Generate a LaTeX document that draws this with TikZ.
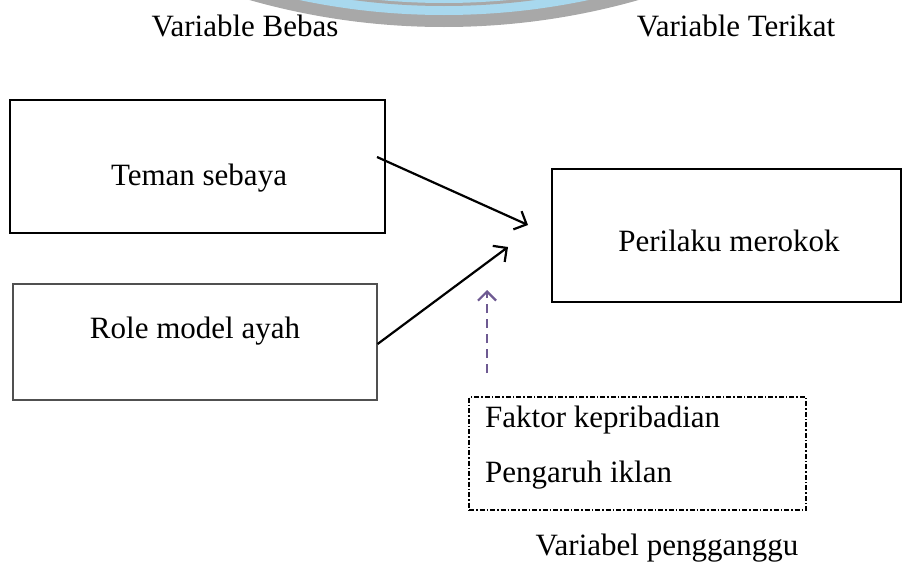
\documentclass[tikz,border=0pt]{standalone}
\usepackage{fontspec}
\setmainfont{Liberation Serif}
\usetikzlibrary{arrows.meta}
\definecolor{wmgrey}{HTML}{A8A8A8}
\definecolor{wmblue}{HTML}{A8D8EE}
\definecolor{dpurple}{HTML}{6E5A92}
\definecolor{boxgrey}{HTML}{505050}
\begin{document}
\begin{tikzpicture}[x=1pt,y=-1pt,
  font=\fontsize{31}{37}\selectfont,
  thickbox/.style={draw=black, line width=2.2pt, inner sep=0pt},
  thinbox/.style={draw=boxgrey, line width=1.2pt, inner sep=0pt},
  dotbox/.style={draw=black, line width=1.3pt, dash pattern=on 5pt off 2pt on 1.5pt off 2pt, inner sep=0pt},
  lbl/.style={anchor=base, inner sep=0pt},
  lblw/.style={anchor=base west, inner sep=0pt},
  conn/.style={draw=black, line width=2.2pt, -{Straight Barb[length=10pt,width=20pt,line width=2.2pt]}},
  pconn/.style={draw=dpurple, line width=2.4pt, dash pattern=on 9pt off 6pt, -{Straight Barb[length=9pt,width=18pt,line width=2.2pt]}}
]
\useasboundingbox (0,0) rectangle (902,565);
% faint watermark at the top
\begin{scope}
  \clip (0,0) rectangle (902,565);
  \fill[wmgrey] (444,-683) circle (710pt);
  \fill[wmblue] (444,-683) circle (698pt);
  \fill[wmgrey] (444,-683) circle (689pt);
  \fill[wmblue] (444,-683) circle (686pt);
\end{scope}

% headings
\node[lbl] (hbebas) at (245,36) {Variable Bebas};
\node[lbl] (hterikat) at (736,36) {Variable Terikat};

% boxes
\node[thickbox, minimum width=375pt, minimum height=133pt] (teman) at (197.5,166.5) {};
\node[thinbox, minimum width=364pt, minimum height=116pt] (role) at (195,342) {};
\node[thickbox, minimum width=349pt, minimum height=133pt] (perilaku) at (726.5,235.5) {};
\node[dotbox, minimum width=337pt, minimum height=113pt] (ganggu) at (637.5,453.5) {};

% box texts
\node[lbl] (tteman) at (199,185) {Teman sebaya};
\node[lbl] (trole) at (195,338) {Role model ayah};
\node[lbl] (tperilaku) at (729,251) {Perilaku merokok};
\node[lblw] (tfaktor) at (485,427) {Faktor kepribadian};
\node[lblw] (tiklan) at (485,482) {Pengaruh iklan};
\node[lbl] (tganggu) at (667,555) {Variabel pengganggu};

% connectors
\coordinate (a1s) at (377,157);
\coordinate (a1e) at (528,225);
\coordinate (a2s) at (role.east |- 0,344);
\coordinate (a2e) at (508,247);
\coordinate (p1s) at (487,373);
\coordinate (p1e) at (487,290);
\draw[conn] (a1s) -- (a1e);
\draw[conn] (a2s) -- (a2e);
\draw[pconn] (p1s) -- (p1e);
\end{tikzpicture}
\end{document}
